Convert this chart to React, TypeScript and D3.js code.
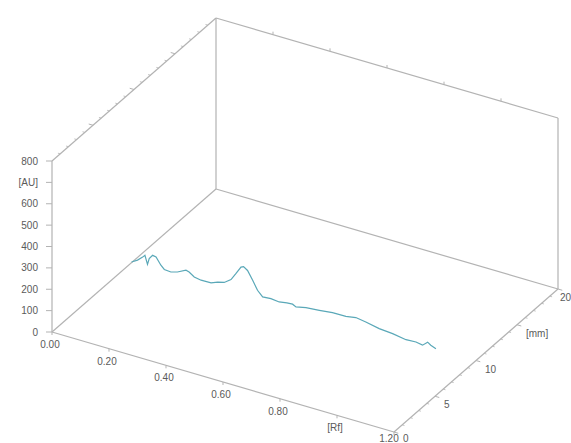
import React from "react";
import * as d3 from "d3";

// densitogram trace (track at 9.7 mm)
const TRACK_MM = 9.7;
const traceRf = [
  0, 0.021, 0.039, 0.047, 0.056, 0.062, 0.074, 0.086, 0.103, 0.115, 0.138, 0.161,
  0.191, 0.202, 0.22, 0.244, 0.279, 0.302, 0.325, 0.349, 0.366, 0.384, 0.393, 0.407,
  0.425, 0.442, 0.46, 0.489, 0.518, 0.545, 0.565, 0.577, 0.612, 0.659, 0.705, 0.752,
  0.787, 0.822, 0.869, 0.916, 0.963, 0.998, 1.021, 1.039, 1.05, 1.068,
];
const traceAu = [
  3, 20, 41, 53, 14, 43, 63, 60, 28, 13, 10, 19, 39, 35, 19, 13, 14, 27, 34, 57, 91,
  129, 135, 122, 83, 43, 19, 22, 18, 24, 26, 18, 28, 34, 41, 42, 50, 43, 30, 25, 15,
  18, 12, 33, 23, 14,
];

const auTicks = [0, 100, 200, 300, 400, 500, 600, 700, 800];
const auLabels = ["0", "100", "200", "300", "400", "500", "600", "[AU]", "800"];
const rfTicks = [0, 0.2, 0.4, 0.6, 0.8, 1.0, 1.2];
const rfLabels = ["0.00", "0.20", "0.40", "0.60", "0.80", "[Rf]", "1.20"];
const mmTicks = [0, 5, 10, 15, 20];
const mmLabels = ["0", "5", "10", "[mm]", "20"];

const ox = 52;
const oy = 332;
const rfX = d3.scaleLinear().domain([0, 1.2]).range([0, 342]);
const rfY = d3.scaleLinear().domain([0, 1.2]).range([0, 100]);
const mmX = d3.scaleLinear().domain([0, 20]).range([0, 164]);
const mmY = d3.scaleLinear().domain([0, 20]).range([0, -143]);
const auY = d3.scaleLinear().domain([0, 800]).range([0, -171]);

const proj = (r: number, m: number, a: number): [number, number] => [
  ox + rfX(r) + mmX(m),
  oy + rfY(r) + mmY(m) + auY(a),
];

const axisColor = "#b3b3b3";
const textColor = "#5a5a5a";

const seg = (a: [number, number], b: [number, number], key: string, w = 1.2) => (
  <line key={key} x1={a[0]} y1={a[1]} x2={b[0]} y2={b[1]} stroke={axisColor} strokeWidth={w} />
);

export default function App() {
  const line = d3
    .line<number>()
    .x((_, i) => proj(traceRf[i], TRACK_MM, traceAu[i])[0])
    .y((_, i) => proj(traceRf[i], TRACK_MM, traceAu[i])[1]);

  const edges: [[number, number, number], [number, number, number]][] = [
    [[0, 0, 0], [0, 0, 800]],
    [[0, 0, 0], [1.2, 0, 0]],
    [[1.2, 0, 0], [1.2, 20, 0]],
    [[0, 0, 0], [0, 20, 0]],
    [[0, 0, 800], [0, 20, 800]],
    [[0, 20, 0], [0, 20, 800]],
    [[0, 20, 800], [1.2, 20, 800]],
    [[1.2, 20, 0], [1.2, 20, 800]],
    [[0, 20, 0], [1.2, 20, 0]],
  ];

  const mmMinor = d3.range(1, 20).filter((m) => m % 5 !== 0);

  return (
    <svg
      width={571}
      height={443}
      style={{ position: "absolute", left: 0, top: 0, background: "#fff" }}
      fontFamily="Arial, 'Liberation Sans', sans-serif"
      fontSize={10}
    >
      <rect width={571} height={443} fill="#fff" />
      {edges.map((e, i) => seg(proj(...e[0]), proj(...e[1]), "e" + i))}

      {/* AU axis */}
      {auTicks.map((v, i) => {
        const p = proj(0, 0, v);
        return (
          <g key={"au" + i}>
            {seg(p, [p[0] - 6, p[1]], "t", 1)}
            <text x={p[0] - 14} y={p[1] + 3.5} textAnchor="end" fill={textColor}>
              {auLabels[i]}
            </text>
          </g>
        );
      })}

      {/* Rf front axis */}
      {rfTicks.map((v, i) => {
        const p = proj(v, 0, 0);
        const last = i === rfTicks.length - 1;
        return (
          <g key={"rf" + i}>
            {seg(p, [p[0], p[1] + 3], "t", 1)}
            <text
              x={p[0] - (last ? 5 : 2)}
              y={last ? 442 : p[1] + 16}
              textAnchor="middle"
              fill={textColor}
            >
              {rfLabels[i]}
            </text>
          </g>
        );
      })}

      {/* Rf ticks on back top edge */}
      {rfTicks.slice(1, -1).map((v, i) => {
        const p = proj(v, 20, 800);
        return seg(p, [p[0], p[1] - 3], "rb" + i, 1);
      })}

      {/* mm axis */}
      {mmTicks.map((v, i) => {
        const p = proj(1.2, v, 0);
        const first = i === 0;
        const last = i === mmTicks.length - 1;
        return (
          <g key={"mm" + i}>
            {seg(p, proj(1.215, v, 0), "t", 1)}
            <text
              x={last ? 560 : p[0] + 9}
              y={first ? 442 : p[1] + 12}
              textAnchor="start"
              fill={textColor}
            >
              {mmLabels[i]}
            </text>
          </g>
        );
      })}
      {mmMinor.map((v) => seg(proj(1.2, v, 0), proj(1.208, v, 0), "mn" + v, 0.8))}

      {/* mm ticks on top left edge */}
      {mmTicks.slice(1, -1).map((v) => seg(proj(0, v, 800), proj(-0.015, v, 800), "mt" + v, 1))}
      {mmMinor.map((v) => seg(proj(0, v, 800), proj(-0.008, v, 800), "mtn" + v, 0.8))}

      <path d={line(traceRf) ?? ""} fill="none" stroke="#5aa8b8" strokeWidth={1.2} />
    </svg>
  );
}
